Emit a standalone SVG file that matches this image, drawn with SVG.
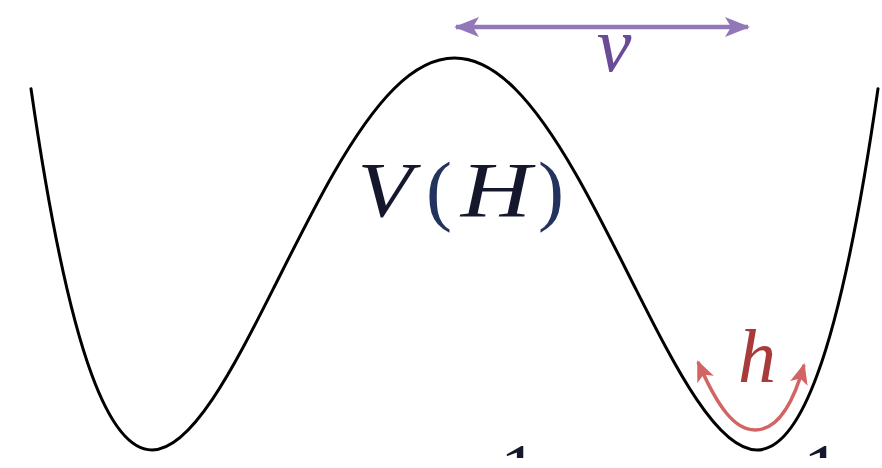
<svg xmlns="http://www.w3.org/2000/svg" width="882" height="468" viewBox="0 0 882 468">
<style>
.curve{fill:none;stroke:#000;stroke-width:3;stroke-linecap:round}
.math{font-family:"Liberation Serif","DejaVu Serif",serif;font-style:italic}
.up{font-family:"Liberation Serif","DejaVu Serif",serif}
</style>
<defs>
<marker id="ap" markerUnits="userSpaceOnUse" markerWidth="28" markerHeight="24" refX="23" refY="12" orient="auto-start-reverse" viewBox="0 0 28 24">
<path d="M0,2 L25,12 L0,22 L6,12 Z" fill="#9278b8"/>
</marker>
<marker id="ar" markerUnits="userSpaceOnUse" markerWidth="24" markerHeight="22" refX="19" refY="11" orient="auto-start-reverse" viewBox="0 0 24 22">
<path d="M0,2 L21,11 L0,20 L5,11 Z" fill="#d26464"/>
</marker>
<clipPath id="clipb"><rect x="0" y="0" width="882" height="458"/></clipPath>
</defs>
<g id="potential">
<path class="curve" d="M31,88.7 C51.2,229.2 71.3,318.9 91.5,374.1 C111.7,429.3 131.8,450 152,450 C172.2,450 192.3,429.3 212.5,399.2 C232.7,369.1 252.8,329.5 273,289.4 C293.2,249.3 313.3,208.5 333.5,173.4 C353.7,138.3 373.8,108.8 394,88.7 C414.2,68.6 434.3,58 454.5,58 C474.7,58 494.8,68.6 515,88.7 C535.2,108.8 555.3,138.3 575.5,173.4 C595.7,208.5 615.8,249.3 636,289.4 C656.2,329.5 676.3,369.1 696.5,399.2 C716.7,429.3 736.8,450 757,450 C777.2,450 797.3,429.3 817.5,374.1 C837.8,318.9 857.8,229.2 878,88.7"/>
</g>
<g id="label-VH" fill="#15182c">
<text class="math" x="385" y="216" font-size="78" text-anchor="middle" transform="translate(385 0) scale(1.15 1) translate(-385 0)">V</text>
<text class="up" x="439" y="216" font-size="78" text-anchor="middle" fill="#22335e">(</text>
<text class="math" x="496" y="216" font-size="78" text-anchor="middle" transform="translate(496 0) scale(1.25 1) translate(-496 0)">H</text>
<text class="up" x="551" y="216" font-size="78" text-anchor="middle" fill="#22335e">)</text>
</g>
<g id="connectors">
<line x1="456" y1="27" x2="748" y2="27" stroke="#9278b8" stroke-width="4.5" marker-start="url(#ap)" marker-end="url(#ap)"/>
<path d="M698,362 C718,408 735,430 755,430 C775,430 792,408 804,365" fill="none" stroke="#d26464" stroke-width="3.5" marker-start="url(#ar)" marker-end="url(#ar)"/>
</g>
<g id="label-v">
<text class="math" x="614" y="71" font-size="78" text-anchor="middle" fill="#6a4b98">v</text>
</g>
<g id="label-h">
<text class="math" x="757" y="382" font-size="76" text-anchor="middle" fill="#a83a3a">h</text>
</g>
<g id="axis-labels" clip-path="url(#clipb)" fill="#15182c">
<text class="up" x="519" y="496" font-size="76" text-anchor="middle">1</text>
<text class="up" x="822" y="496" font-size="76" text-anchor="middle">1</text>
</g>
</svg>
